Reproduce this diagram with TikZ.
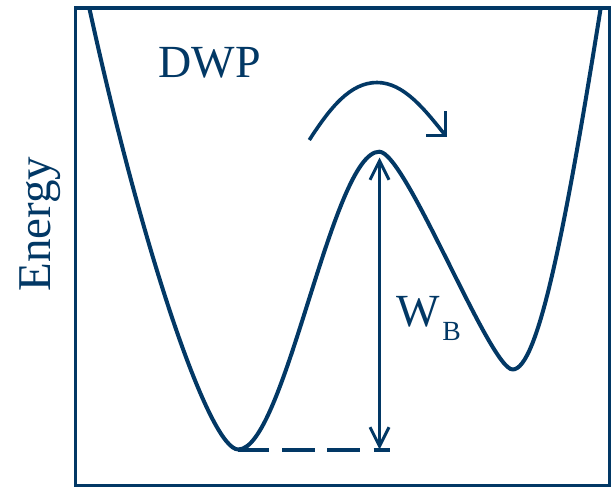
\documentclass[tikz,border=0pt]{standalone}
\usepackage{fontspec}
\setmainfont{Liberation Serif}
\usetikzlibrary{arrows.meta}
\definecolor{navy}{RGB}{2,56,101}
\begin{document}
\begin{tikzpicture}[x=1pt,y=-1pt,
  curve/.style={draw=navy,line width=4pt,line join=round},
  frame/.style={draw=navy,line width=3.6pt},
  lbl/.style={text=navy,inner sep=0pt,outer sep=0pt},
  barb/.tip={Straight Barb[length=19pt,width=19pt,line width=3pt]}]
\useasboundingbox (0,0) rectangle (611,487);
\fill[white] (0,0) rectangle (611,487);
% frame
\draw[frame] (75.3,8) rectangle (609.5,485.3);
% potential curve
\coordinate (s) at (89.3,8);
\coordinate (m1) at (238.3,449.5);
\coordinate (pk) at (379.3,151.7);
\coordinate (m2) at (512.7,369.5);
\coordinate (e) at (600.7,8);
\draw[curve] (s) .. controls (144,258) and (210,449.5) .. (m1)
  .. controls (285,449.5) and (332,151.7) .. (pk)
  .. controls (405.6,151.7) and (489.9,369.5) .. (m2)
  .. controls (538,369.5) and (565.5,228) .. (e);
% hopping arc arrow
\coordinate (a0) at (309.3,140);
\coordinate (a1) at (377,82.5);
\coordinate (a2) at (445.5,135.5);
\draw[draw=navy,line width=3.6pt] (a0) .. controls (330,108) and (350,82.5) .. (a1)
  .. controls (404,82.5) and (425,110) .. (a2);
\draw[draw=navy,line width=3.6pt,line join=miter] (445.5,111.5) -- (a2) -- (425.5,135.5);
% barrier height arrow
\coordinate (top) at (379.5,157.5);
\coordinate (bot) at (379.5,449.5);
\draw[draw=navy,line width=3pt,barb-barb] (top) -- (bot);
% dashed reference
\coordinate (dl) at (238.3,449.7);
\coordinate (dr) at (390,449.7);
\draw[draw=navy,line width=4pt,dash pattern=on 31pt off 12.7pt on 33.3pt off 12pt on 33pt off 13.3pt on 17pt off 60pt] (dl) -- (dr);
% labels
\node[lbl,font=\fontsize{46}{46}\selectfont,anchor=base west] (dwp) at (158.5,77.7) {DWP};
\node[lbl,font=\fontsize{47}{47}\selectfont,rotate=90,anchor=base west] (en) at (50.7,291.7) {Energy};
\node[lbl,font=\fontsize{46}{46}\selectfont,anchor=base west] (w) at (396.3,326.7) {W};
\node[lbl,font=\fontsize{27.7}{27.7}\selectfont,anchor=base west] (b) at (442.3,340) {B};
\end{tikzpicture}
\end{document}
